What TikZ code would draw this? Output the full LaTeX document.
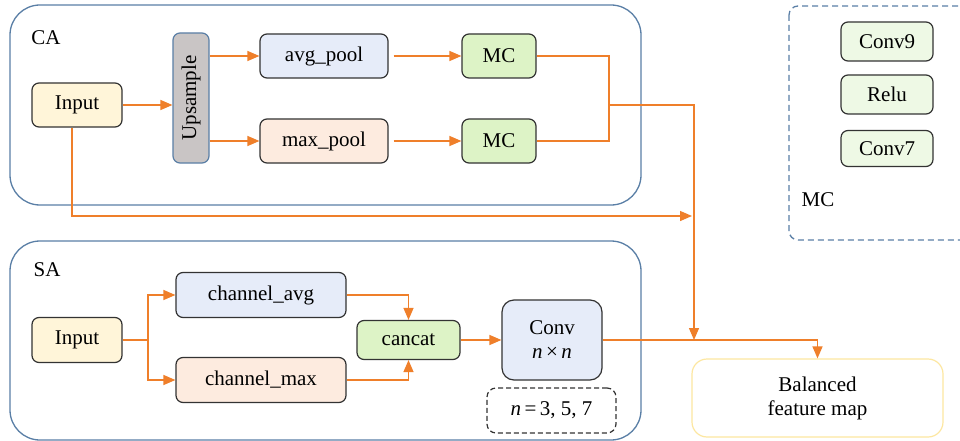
\documentclass[tikz,border=0pt]{standalone}
\usepackage{fontspec}
\setmainfont{Liberation Serif}
\usetikzlibrary{arrows.meta}

\begin{document}
\begin{tikzpicture}[x=1pt,y=-1pt,
  box/.style={draw=boxColor,line width=1.2pt,rounded corners=7pt,inner sep=0pt,
    align=center,font=\fontsize{21}{24}\selectfont},
  lbl/.style={inner sep=0pt,font=\fontsize{21}{24}\selectfont},
  frame/.style={draw=frameColor,line width=1.3pt,rounded corners=30pt},
  flow/.style={draw=flowColor,line width=1.3pt},
  arr/.style={flow,-{Triangle[length=12pt,width=10pt]}}]
\definecolor{boxColor}{RGB}{51,51,51}
\definecolor{frameColor}{RGB}{90,127,166}
\definecolor{flowColor}{RGB}{239,127,42}
\definecolor{inColor}{RGB}{255,245,217}
\definecolor{avgColor}{RGB}{230,236,249}
\definecolor{maxColor}{RGB}{253,235,223}
\definecolor{mcColor}{RGB}{221,243,198}
\definecolor{opColor}{RGB}{238,249,229}
\definecolor{upColor}{RGB}{201,197,197}
\definecolor{balColor}{RGB}{253,231,161}
\path[use as bounding box,fill=white] (0,0) rectangle (960,441);

\path[frame] (10,5) rectangle (641,205);
\path[frame] (10,241) rectangle (641,440);
\path[draw=frameColor,line width=1.3pt,dash pattern=on 6pt off 4pt,rounded corners=9pt] (789,6) rectangle (985,240);

\node[lbl] (caLbl) at (46,38) {CA};
\node[lbl] (saLbl) at (47,270) {SA};
\node[lbl] (mcLbl) at (818,200) {MC};

\node[box,fill=inColor,minimum width=90pt,minimum height=44pt] (caIn) at (77,105) {Input};
\node[box,draw=frameColor,fill=upColor,minimum width=36pt,minimum height=130pt] (ups) at (191,98) {};
\node[lbl,rotate=90] (upsTxt) at (ups) {Upsample};
\node[box,fill=avgColor,minimum width=128pt,minimum height=44pt] (avg) at (324,56) {avg\_pool};
\node[box,fill=maxColor,minimum width=128pt,minimum height=44pt] (max) at (324,141) {max\_pool};
\node[box,fill=mcColor,minimum width=74pt,minimum height=44pt] (mc1) at (499,56) {MC};
\node[box,fill=mcColor,minimum width=74pt,minimum height=44pt] (mc2) at (499,141) {MC};

\node[box,fill=opColor,minimum width=92pt,minimum height=39pt] (conv9) at (887,41.5) {Conv9};
\node[box,fill=opColor,minimum width=92pt,minimum height=39pt] (relu) at (887,94.5) {Relu};
\node[box,fill=opColor,minimum width=92pt,minimum height=36pt] (conv7) at (887,148.5) {Conv7};

\node[box,fill=inColor,minimum width=90pt,minimum height=45pt] (saIn) at (77,340) {Input};
\node[box,fill=avgColor,minimum width=170pt,minimum height=45pt] (chAvg) at (261,295) {channel\_avg};
\node[box,fill=maxColor,minimum width=170pt,minimum height=45pt] (chMax) at (261,380) {channel\_max};
\node[box,fill=mcColor,minimum width=103pt,minimum height=39pt] (cat) at (408.5,340) {cancat};
\node[box,fill=avgColor,rounded corners=12pt,minimum width=100pt,minimum height=80pt] (conv) at (552,340) {Conv\\\textit{n}\,×\,\textit{n}};
\node[box,fill=white,rounded corners=9pt,dash pattern=on 5pt off 3pt,minimum width=129pt,minimum height=45pt] (nBox) at (551.5,410.5) {\textit{n}\,=\,3, 5, 7};
\node[box,draw=balColor,fill=white,rounded corners=15pt,minimum width=251pt,minimum height=78pt] (bal) at (817.5,398) {Balanced\\feature map};

\coordinate (jn) at (609,105);
\coordinate (hit) at (694,340);
\coordinate (byp) at (692,216);
\coordinate (split) at (148,340);

\draw[arr] (caIn) -- (caIn -| ups.west);
\draw[arr] (ups.east |- avg) -- (avg);
\draw[arr] (ups.east |- max) -- (max);
\draw[arr,shorten <=5pt] (avg) -- (mc1);
\draw[arr,shorten <=5pt] (max) -- (mc2);
\draw[flow] (mc1.east) -- (mc1.east -| jn) -- (mc2.east -| jn) -- (mc2.east);
\draw[arr] (jn) -| (hit);
\draw[arr] ([xshift=-5pt]caIn.south) |- (byp);

\draw[flow] (saIn) -- (split);
\draw[arr] (split) |- (chAvg);
\draw[arr] (split) |- (chMax);
\draw[arr] (chAvg) -| (cat);
\draw[arr] (chMax) -| (cat);
\draw[arr] (cat) -- (conv);
\draw[arr] (conv) -| (bal);
\end{tikzpicture}
\end{document}
